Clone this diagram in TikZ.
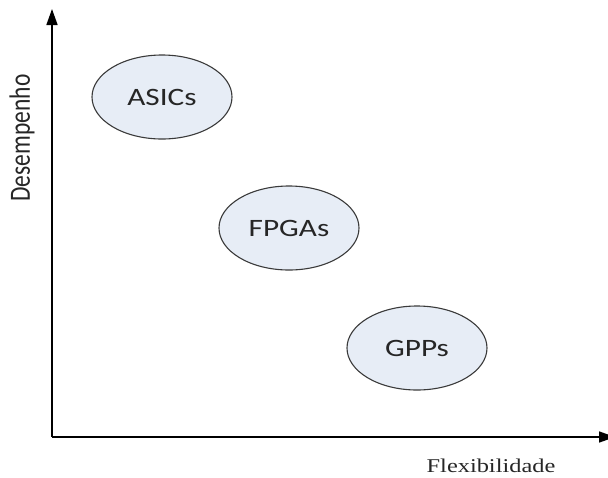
\documentclass[tikz,border=0pt]{standalone}
\usepackage{fontspec}
\setmainfont{Liberation Serif}
\newfontfamily\labelfont{Carlito}
\usetikzlibrary{arrows.meta,shapes.geometric}
\definecolor{ellfill}{HTML}{E7EDF6}
\definecolor{ellline}{HTML}{3A3A3A}
\definecolor{labeltext}{HTML}{262626}
\tikzset{
  axis/.style={line width=1.6pt, -{Triangle[length=16pt,width=11pt]}},
  category/.style={ellipse, draw=ellline, line width=1.1pt, fill=ellfill,
    minimum width=140pt, minimum height=84pt, inner sep=0pt,
    text=labeltext, font=\labelfont\fontsize{25}{30}\selectfont},
  axislabel/.style={inner sep=0pt, text=labeltext},
}
\newcommand{\wide}[1]{\scalebox{1.25}[1]{#1}}
\begin{document}
\begin{tikzpicture}[x=1pt, y=-1pt]
  \useasboundingbox (0,0) rectangle (608,477);
  % axes
  \coordinate (origin) at (52,437);
  \coordinate (ytip) at (52,9);
  \coordinate (xtip) at (615,437);
  \draw[axis] (origin) -- (ytip);
  \draw[axis] (origin) -- (xtip);
  % axis labels
  \node[axislabel, font=\labelfont\fontsize{23.5}{28}\selectfont] (ylab) at (22,138)
    {\wide{\rotatebox{90}{Desempenho}}};
  \node[axislabel, font=\fontsize{19.5}{24}\selectfont, anchor=base] (xlab) at (491,472)
    {\wide{Flexibilidade}};
  % categories
  \node[category] (asic) at (162,97) {\wide{ASICs}};
  \node[category] (fpga) at (289,228) {\wide{FPGAs}};
  \node[category] (gpp) at (417,348) {\wide{GPPs}};
\end{tikzpicture}
\end{document}
